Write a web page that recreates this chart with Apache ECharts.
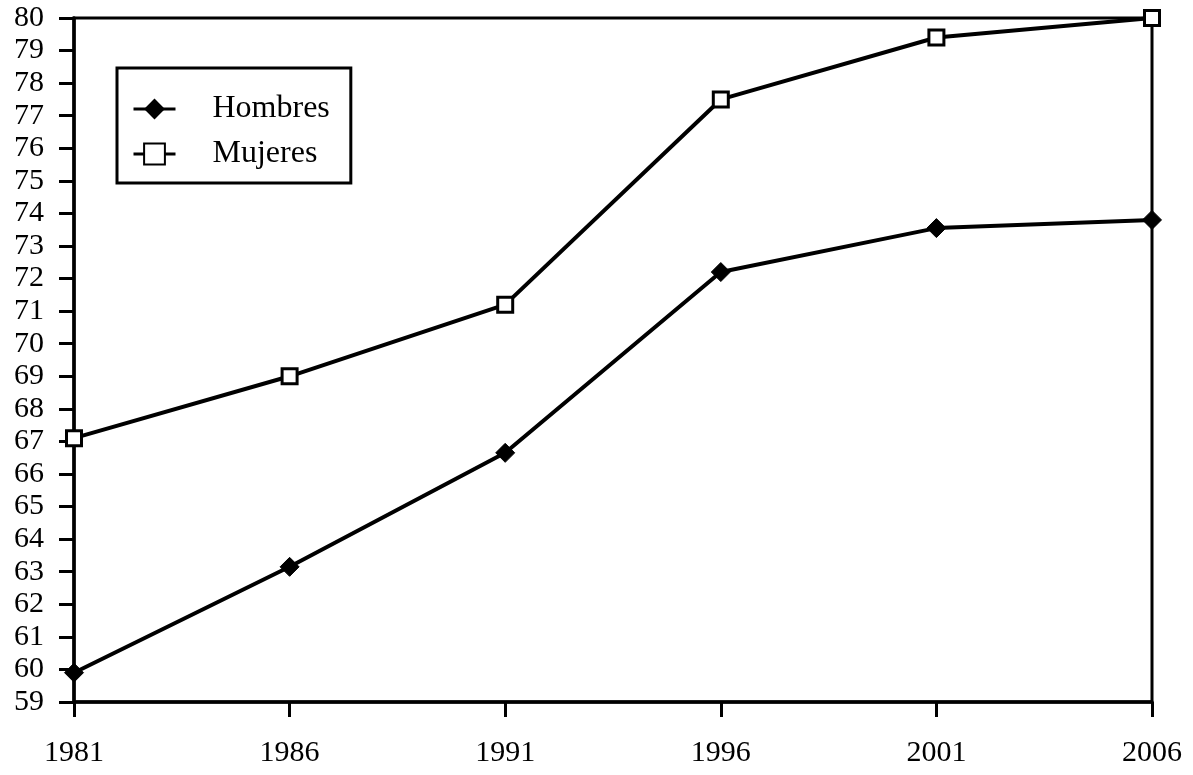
<!DOCTYPE html>
<html>
<head>
<meta charset="utf-8">
<script src="https://cdn.jsdelivr.net/npm/echarts@6/dist/echarts.min.js"></script>
<style>
  html, body { margin: 0; padding: 0; background: #fff; }
  #main { width: 1193px; height: 775px; }
</style>
</head>
<body>
<div id="main"></div>
<script>
// values
const years = ['1981', '1986', '1991', '1996', '2001', '2006']
const hombres = [59.9, 63.15, 66.65, 72.2, 73.55, 73.8]
const mujeres = [67.1, 69.0, 71.2, 77.5, 79.4, 80.0]

const font = 'Liberation Serif, Times New Roman, serif'

const chart = echarts.init(document.getElementById('main'))

const option = {
  backgroundColor: '#fff',
  animation: false,
  grid: {
    left: 74,
    right: 41,
    top: 18,
    bottom: 73,
    show: true,
    borderColor: '#000',
    borderWidth: 3
  },
  legend: {
    orient: 'vertical',
    left: 117,
    top: 68,
    padding: [25, 21, 13, 15],
    itemGap: 13,
    itemWidth: 42,
    itemHeight: 26,
    borderColor: '#000',
    borderWidth: 3,
    lineStyle: { width: 3 },
    textStyle: {
      fontFamily: font,
      fontSize: 32,
      color: '#000',
      padding: [0, 0, 0, 32]
    },
    data: ['Hombres', 'Mujeres']
  },
  xAxis: {
    type: 'category',
    data: years,
    boundaryGap: false,
    axisLine: { lineStyle: { color: '#000', width: 3.5 } },
    axisTick: { alignWithLabel: true, length: 15, lineStyle: { color: '#000', width: 3 } },
    axisLabel: {
      fontFamily: font,
      fontSize: 30,
      color: '#000',
      margin: 36
    },
    splitLine: { show: false }
  },
  yAxis: {
    type: 'value',
    min: 59,
    max: 80,
    interval: 1,
    axisLine: { show: true, lineStyle: { color: '#000', width: 3.5 } },
    axisTick: { show: true, length: 15, lineStyle: { color: '#000', width: 3 } },
    axisLabel: {
      fontFamily: font,
      fontSize: 30,
      color: '#000',
      margin: 30
    },
    splitLine: { show: false }
  },
  series: [
    {
      name: 'Hombres',
      type: 'line',
      data: hombres,
      symbol: 'diamond',
      symbolSize: 19,
      lineStyle: { color: '#000', width: 4 },
      itemStyle: { color: '#000', borderColor: '#000' },
      z: 3
    },
    {
      name: 'Mujeres',
      type: 'line',
      data: mujeres,
      symbol: 'rect',
      symbolSize: 15,
      lineStyle: { color: '#000', width: 4 },
      itemStyle: { color: '#fff', borderColor: '#000', borderWidth: 3 },
      z: 3
    }
  ]
}

option && chart.setOption(option)
</script>
</body>
</html>
